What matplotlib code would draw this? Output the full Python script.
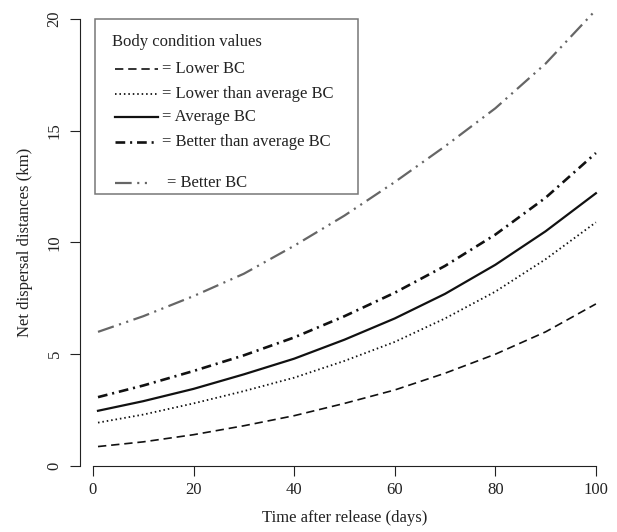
import numpy as np
import matplotlib
matplotlib.use("Agg")
import matplotlib.pyplot as plt
from matplotlib.lines import Line2D
from matplotlib.patches import Rectangle

plt.rcParams['font.family'] = ['Liberation Serif', 'DejaVu Serif']
plt.rcParams['lines.scale_dashes'] = False

# values
days = [1, 10, 20, 30, 40, 50, 60, 70, 80, 90, 100]
lower_bc = [0.87, 1.08, 1.4, 1.8, 2.25, 2.8, 3.4, 4.15, 5.0, 6.0, 7.25]
lower_avg_bc = [1.94, 2.3, 2.8, 3.35, 3.95, 4.7, 5.55, 6.6, 7.8, 9.25, 10.9]
average_bc = [2.47, 2.9, 3.45, 4.1, 4.8, 5.65, 6.6, 7.7, 9.0, 10.5, 12.2]
better_avg_bc = [3.08, 3.6, 4.25, 4.95, 5.75, 6.7, 7.75, 8.95, 10.35, 12.0, 14.0]
better_bc = [6.0, 6.7, 7.6, 8.6, 9.85, 11.2, 12.7, 14.3, 16.0, 18.0, 20.4]

labels = ['= Lower BC', '= Lower than average BC', '= Average BC',
          '= Better than average BC', '= Better BC']
xticks = [0, 20, 40, 60, 80, 100]
yticks = [0, 5, 10, 15, 20]

# style per series: colour, width, dash pattern (None = solid)
styles = [
    ('#111111', 1.2, (6, 3.5)),
    ('#111111', 1.3, (1.1, 2.1)),
    ('#111111', 1.6, None),
    ('#111111', 1.9, (7, 3.5, 1.5, 3.5)),
    ('#666666', 1.6, (12, 4, 1.5, 4, 1.5, 4)),
]
series = [lower_bc, lower_avg_bc, average_bc, better_avg_bc, better_bc]

W, H = 617, 532
fig = plt.figure(figsize=(W / 100, H / 100), dpi=100)
ax = fig.add_axes([80 / W, 66 / H, 534 / W, 465 / H])

for vals, (c, lw, dash) in zip(series, styles):
    line, = ax.plot(days, vals, color=c, lw=lw, clip_on=False)
    if dash is not None:
        line.set_dashes(dash)

ax.set_xlim(-2.58, 103.6)
ax.set_ylim(0, 20.8)
ax.set_xticks(xticks)
ax.set_yticks(yticks)
for s in ['top', 'right']:
    ax.spines[s].set_visible(False)
ax.spines['left'].set_bounds(0, 20)
ax.spines['bottom'].set_bounds(0, 100)
for s in ['left', 'bottom']:
    ax.spines[s].set_color('#222222')
    ax.spines[s].set_linewidth(0.8)
ax.tick_params(axis='both', length=7.5, width=0.8, color='#222222',
               labelsize=12, labelcolor='#222222')
ax.tick_params(axis='x', pad=4)
ax.tick_params(axis='y', pad=5, labelrotation=90)
for t in ax.get_yticklabels():
    t.set_va('center')

ax.set_xlabel('Time after release (days)', fontsize=12, color='#222222')
ax.xaxis.set_label_coords(0.495, -0.112)
ax.xaxis.label.set_va('center')
ax.set_ylabel('Net dispersal distances (km)', fontsize=12, color='#222222')
ax.yaxis.set_label_coords(-0.103, 0.48)
ax.yaxis.label.set_va('center')

# hand-built legend box, pixel positions from the reference
def fx(px):
    return px / W

def fy(py):
    return 1 - py / H

fig.add_artist(Rectangle((fx(95), fy(194)), fx(358) - fx(95), fy(19) - fy(194),
                         transform=fig.transFigure, fill=False,
                         edgecolor='#777777', lw=1.1))
fig.text(fx(112), fy(42), 'Body condition values', fontsize=12,
         va='center', ha='left', color='#222222')
rows = [69, 94, 117, 142, 183]
for i, (lab, (c, lw, dash)) in enumerate(zip(labels, styles)):
    y = fy(rows[i])
    x1 = 148 if i == 4 else 158
    ln = Line2D([fx(115), fx(x1)], [y, y], transform=fig.transFigure,
                color=c, lw=lw)
    if dash is not None:
        ln.set_dashes(dash)
    fig.add_artist(ln)
    fig.text(fx(167 if i == 4 else 162), y, lab, fontsize=12,
             va='center', ha='left', color='#222222')

fig.savefig('out.png', dpi=100)
